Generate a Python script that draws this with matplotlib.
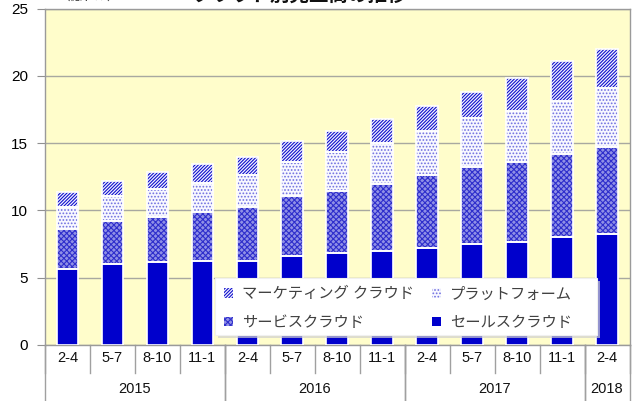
import matplotlib
matplotlib.use("Agg")
import matplotlib.pyplot as plt
import matplotlib.transforms as mtransforms
from matplotlib.patches import Rectangle
import numpy as np

plt.rcParams["font.family"] = ["Liberation Sans", "Noto Sans CJK JP", "DejaVu Sans"]
plt.rcParams["hatch.linewidth"] = 0.8

# --- data (億ドル) ---
MONTHS = ["2-4", "5-7", "8-10", "11-1",
          "2-4", "5-7", "8-10", "11-1",
          "2-4", "5-7", "8-10", "11-1",
          "2-4"]
YEARS = ["2015", "2016", "2017", "2018"]
YEAR_SPANS = [4, 4, 4, 1]

# cumulative tops, converted to segment sizes below
sales_top = [5.65, 6.0, 6.14, 6.24, 6.24, 6.64, 6.81, 6.98, 7.18, 7.5, 7.67, 8.0, 8.25]
service_top = [8.6, 9.2, 9.53, 9.9, 10.28, 11.07, 11.46, 11.96, 12.63, 13.2, 13.62, 14.19, 14.73]
platform_top = [10.25, 11.05, 11.57, 12.06, 12.63, 13.62, 14.36, 15.03, 15.92, 16.89, 17.4, 18.1, 19.12]
marketing_top = [11.4, 12.2, 12.87, 13.45, 13.99, 15.18, 15.92, 16.79, 17.76, 18.82, 19.8, 21.07, 21.98]

sales = np.array(sales_top)
service = np.array(service_top) - np.array(sales_top)
platform = np.array(platform_top) - np.array(service_top)
marketing = np.array(marketing_top) - np.array(platform_top)

LABELS = {
    "sales": "セールスクラウド",
    "service": "サービスクラウド",
    "platform": "プラットフォーム",
    "marketing": "マーケティング クラウド",
}

fig = plt.figure(figsize=(6.38, 4.01), dpi=100)
ax = fig.add_axes([45 / 638, 1 - 345 / 401, 584.5 / 638, 336.5 / 401])
ax.set_facecolor("#FFFDCB")

x = np.arange(len(MONTHS))
w = 0.48

segments = [
    ("sales", sales, "#0000CC", "#0000CC", None),
    ("service", service, "#9090E6", "#2E2ECC", "xxxxxx"),
    ("platform", platform, "#F8F8FF", "#7070E0", "....."),
    ("marketing", marketing, "#F4F4FF", "#1010CC", "//////////"),
]

handles = {}
bottom = np.zeros(len(x))
for key, vals, face, hcol, hatch in segments:
    bars = ax.bar(x, vals, w, bottom=bottom, color=face, edgecolor=hcol,
                  hatch=hatch, linewidth=0, zorder=3, label=LABELS[key])
    ax.bar(x, vals, w, bottom=bottom, fill=False, edgecolor="white",
           linewidth=1.2, zorder=4)
    handles[key] = bars
    bottom = bottom + vals

ax.set_xlim(-0.5, len(x) - 0.5)
ax.set_ylim(0, 25)
ax.set_yticks(np.arange(0, 26, 5))
ax.yaxis.grid(True, color="#A8A8A0", linewidth=1.0, zorder=1)
ax.set_axisbelow(True)
ax.tick_params(axis="y", direction="out", length=6, color="#909090",
               labelsize=11, pad=6)
for s in ax.spines.values():
    s.set_color("#9A9A9A")
    s.set_linewidth(1.0)

# two-level category axis
ax.set_xticks([])
trans = mtransforms.blended_transform_factory(ax.transData, ax.transAxes)
px = 1 / 336.5
for i, m in enumerate(MONTHS):
    ax.text(i, -13 * px, m, transform=trans, ha="center", va="center",
            fontsize=10.5, color="#111111")
for i in range(len(MONTHS) + 1):
    ax.plot([i - 0.5, i - 0.5], [0, -28 * px], transform=trans,
            color="#A0A0A0", linewidth=1.0, clip_on=False)
start = 0
for yr, span in zip(YEARS, YEAR_SPANS):
    ax.text(start + span / 2 - 0.5, -44 * px, yr, transform=trans,
            ha="center", va="center", fontsize=10.5, color="#111111")
    for b in (start, start + span):
        ax.plot([b - 0.5, b - 0.5], [0, -60 * px], transform=trans,
                color="#A0A0A0", linewidth=1.0, clip_on=False)
    start += span

# legend box with soft shadow, legend itself frameless on top
bx, by, bw, bh = 0.291, 0.03, 0.654, 0.169
ax.add_patch(Rectangle((bx + 3 / 584.5, by - 3 * px), bw, bh, transform=ax.transAxes,
                       facecolor="#cfcfcf", edgecolor="none", alpha=0.7,
                       zorder=5, clip_on=False))
ax.add_patch(Rectangle((bx, by), bw, bh, transform=ax.transAxes,
                       facecolor="white", edgecolor="#f0f0f0", linewidth=0.8,
                       zorder=5.5, clip_on=False))
leg = ax.legend(
    [handles["marketing"], handles["service"], handles["platform"], handles["sales"]],
    [LABELS["marketing"], LABELS["service"], LABELS["platform"], LABELS["sales"]],
    ncol=2, loc="upper left", bbox_to_anchor=(bx, by + bh), borderaxespad=0,
    borderpad=0.6, fontsize=11, handlelength=0.55, handleheight=0.55,
    handletextpad=0.6, labelspacing=0.95, columnspacing=1.2, frameon=False,
)
leg.set_zorder(6)
for t in leg.get_texts():
    t.set_color("#404040")

# title and unit, cut off at the top edge as in the reference
fig.text(57 / 638, 1 - 3 / 401, "（億ドル）", fontsize=9, ha="left", va="bottom",
         color="#333333")
fig.text(300 / 638, 1 - 5 / 401, "クラウド別売上高の推移", fontsize=14,
         fontweight="bold", ha="center", va="bottom", color="#111111")

fig.savefig("out.png", dpi=100)
